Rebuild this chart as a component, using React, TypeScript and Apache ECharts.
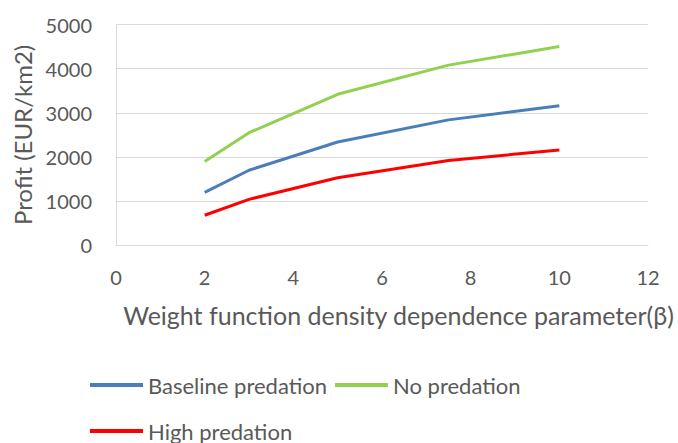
import React, { useEffect, useRef } from "react";
import * as echarts from "echarts";

const betaValues = [2, 3, 5, 7.5, 10];
const baseline = [1200, 1700, 2340, 2840, 3160];
const noPredation = [1900, 2550, 3420, 4080, 4500];
const highPredation = [680, 1040, 1530, 1920, 2160];

const FONT = "Lato";
const TXT = "#595959";

export default function App() {
  const ref = useRef<HTMLDivElement>(null);
  useEffect(() => {
    const chart = echarts.init(ref.current!, null, { renderer: "svg" });
    const mk = (name: string, vals: number[], color: string) => ({
      name,
      type: "line",
      data: betaValues.map((x, i) => [x, vals[i]]),
      showSymbol: false,
      symbol: "none",
      lineStyle: { color, width: 3 },
      itemStyle: { color },
    });
    const legendBase = {
      left: 90,
      padding: 0,
      icon: "rect",
      itemWidth: 53,
      itemHeight: 4,
      itemGap: 8,
      textStyle: { color: TXT, fontSize: 22, fontFamily: FONT },
    };
    chart.setOption({
      animation: false,
      backgroundColor: "#ffffff",
      textStyle: { fontFamily: FONT },
      grid: { left: 116, right: 30, top: 24.5, bottom: 197.7 },
      legend: [
        { ...legendBase, data: ["Baseline predation", "No predation"], top: 374 },
        { ...legendBase, data: ["High predation"], top: 420 },
      ],
      xAxis: {
        type: "value",
        min: 0,
        max: 12,
        interval: 2,
        name: "Weight function density dependence parameter(β)",
        nameLocation: "middle",
        nameGap: 57,
        nameTextStyle: { color: TXT, fontSize: 25, fontFamily: FONT, padding: [0, 0, 0, 33] },
        axisLine: { show: true, lineStyle: { color: "#d9d9d9", width: 1 } },
        axisTick: { show: false },
        axisLabel: { color: TXT, fontSize: 20, margin: 22, fontFamily: FONT, formatter: (v: number) => String(v) },
        splitLine: { show: false },
      },
      yAxis: {
        type: "value",
        min: 0,
        max: 5000,
        interval: 1000,
        name: "Profit (EUR/km2)",
        nameLocation: "middle",
        nameGap: 80,
        nameTextStyle: { color: TXT, fontSize: 24, fontFamily: FONT },
        axisLine: { show: true, lineStyle: { color: "#d9d9d9", width: 1 } },
        axisTick: { show: false },
        axisLabel: { color: TXT, fontSize: 20, margin: 24, fontFamily: FONT, formatter: (v: number) => String(v) },
        splitLine: { show: true, lineStyle: { color: "#d9d9d9", width: 1 } },
      },
      series: [
        mk("Baseline predation", baseline, "#4a7ebb"),
        mk("No predation", noPredation, "#92d050"),
        mk("High predation", highPredation, "#ff0000"),
      ],
    });
    return () => chart.dispose();
  }, []);
  return <div ref={ref} style={{ width: 678, height: 443, position: "absolute", left: 0, top: 0 }} />;
}
